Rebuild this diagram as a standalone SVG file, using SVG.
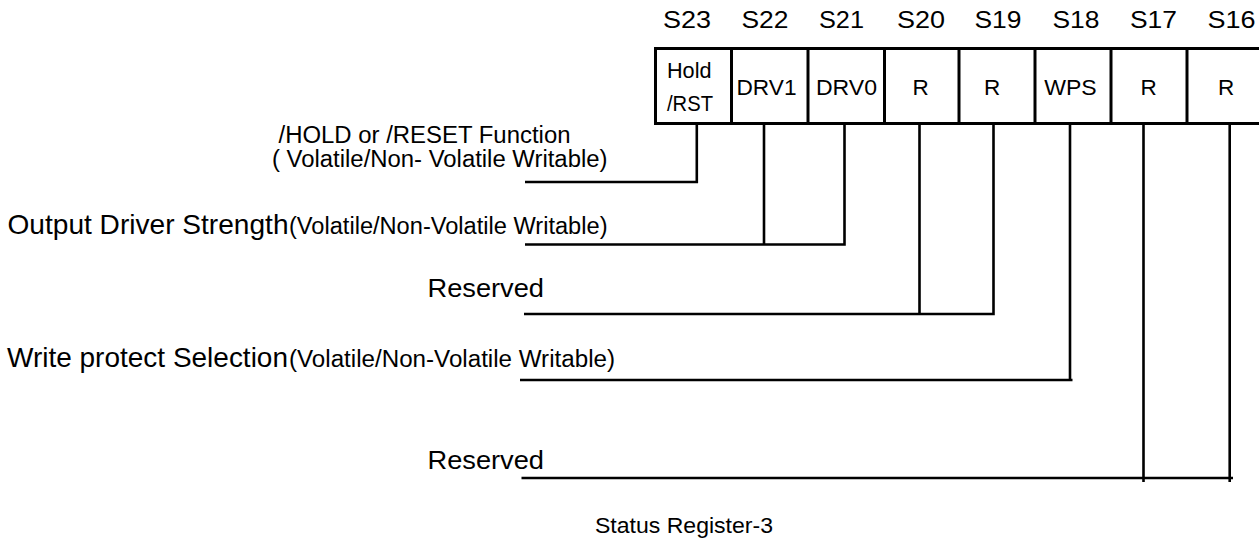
<svg xmlns="http://www.w3.org/2000/svg" width="1259" height="542" viewBox="0 0 1259 542">
<style>
text{font-family:"Liberation Sans",Arial,sans-serif;fill:#000}
.bit{font-size:24.5px;text-anchor:middle}
.cell{font-size:22.5px}
.mid{text-anchor:middle}
.big{font-size:28px}
.small{font-size:23.5px}
.res{font-size:26.5px}
.box{fill:#fff;stroke:#000;stroke-width:3}
.div{stroke:#000;stroke-width:3}
.conn{fill:none;stroke:#000;stroke-width:2.6}
</style>
<rect width="1259" height="542" fill="#fff"/>
<g id="bit-labels">
<text class="bit" x="687" y="27.5" textLength="48" lengthAdjust="spacingAndGlyphs">S23</text>
<text class="bit" x="765" y="27.5" textLength="47" lengthAdjust="spacingAndGlyphs">S22</text>
<text class="bit" x="841.5" y="27.5" textLength="45" lengthAdjust="spacingAndGlyphs">S21</text>
<text class="bit" x="921" y="27.5" textLength="48" lengthAdjust="spacingAndGlyphs">S20</text>
<text class="bit" x="998" y="27.5" textLength="47" lengthAdjust="spacingAndGlyphs">S19</text>
<text class="bit" x="1076" y="27.5" textLength="47" lengthAdjust="spacingAndGlyphs">S18</text>
<text class="bit" x="1153.5" y="27.5" textLength="47" lengthAdjust="spacingAndGlyphs">S17</text>
<text class="bit" x="1231.5" y="27.5" textLength="48" lengthAdjust="spacingAndGlyphs">S16</text>
</g>
<g id="register">
<rect class="box" x="655.5" y="48.5" width="608" height="75"/>
<line class="div" x1="731.5" y1="48.5" x2="731.5" y2="123.5"/>
<line class="div" x1="808" y1="48.5" x2="808" y2="123.5"/>
<line class="div" x1="884.5" y1="48.5" x2="884.5" y2="123.5"/>
<line class="div" x1="959" y1="48.5" x2="959" y2="123.5"/>
<line class="div" x1="1035" y1="48.5" x2="1035" y2="123.5"/>
<line class="div" x1="1111" y1="48.5" x2="1111" y2="123.5"/>
<line class="div" x1="1187" y1="48.5" x2="1187" y2="123.5"/>
<text class="cell" x="667" y="77.5" textLength="44.5" lengthAdjust="spacingAndGlyphs">Hold</text>
<text class="cell" x="667" y="110.5" textLength="46" lengthAdjust="spacingAndGlyphs">/RST</text>
<text class="cell" x="736.5" y="94.5" textLength="60" lengthAdjust="spacingAndGlyphs">DRV1</text>
<text class="cell" x="816" y="94.5" textLength="61" lengthAdjust="spacingAndGlyphs">DRV0</text>
<text class="cell mid" x="920.5" y="94.5">R</text>
<text class="cell mid" x="992" y="94.5">R</text>
<text class="cell mid" x="1070.5" y="94.5" textLength="52.5" lengthAdjust="spacingAndGlyphs">WPS</text>
<text class="cell mid" x="1148.5" y="94.5">R</text>
<text class="cell mid" x="1226" y="94.5">R</text>
</g>
<g id="connectors">
<path class="conn" d="M525,182 H696.8 V123.5"/>
<path class="conn" d="M525,244.5 H845.8 M764,123.5 V244.5 M844.5,123.5 V245.8"/>
<path class="conn" d="M524,314 H994.8 M919.5,123.5 V314 M993.5,123.5 V315.3"/>
<path class="conn" d="M520,380 H1072.5 M1070,123.5 V381.3"/>
<path class="conn" d="M521.5,478 H1233 M1143.5,123.5 V482 M1229.7,123.5 V482"/>
</g>
<g id="hold-label">
<text class="small" x="278.5" y="143" textLength="292" lengthAdjust="spacingAndGlyphs">/HOLD or /RESET Function</text>
<text class="small" x="272" y="167" textLength="335.5" lengthAdjust="spacingAndGlyphs">( Volatile/Non- Volatile Writable)</text>
</g>
<g id="driver-label">
<text class="big" x="7.5" y="233.5" textLength="281" lengthAdjust="spacingAndGlyphs">Output Driver Strength</text>
<text class="small" x="289" y="233.5" textLength="318.5" lengthAdjust="spacingAndGlyphs">(Volatile/Non-Volatile Writable)</text>
</g>
<g id="reserved-1">
<text class="res" x="427.5" y="296.7" textLength="116.5" lengthAdjust="spacingAndGlyphs">Reserved</text>
</g>
<g id="wps-label">
<text class="big" x="7" y="367" textLength="281" lengthAdjust="spacingAndGlyphs">Write protect Selection</text>
<text class="small" x="289" y="367" textLength="326" lengthAdjust="spacingAndGlyphs">(Volatile/Non-Volatile Writable)</text>
</g>
<g id="reserved-2">
<text class="res" x="427.5" y="469" textLength="116.5" lengthAdjust="spacingAndGlyphs">Reserved</text>
</g>
<g id="caption">
<text x="595" y="533" font-size="22" textLength="178" lengthAdjust="spacingAndGlyphs">Status Register-3</text>
</g>
</svg>
